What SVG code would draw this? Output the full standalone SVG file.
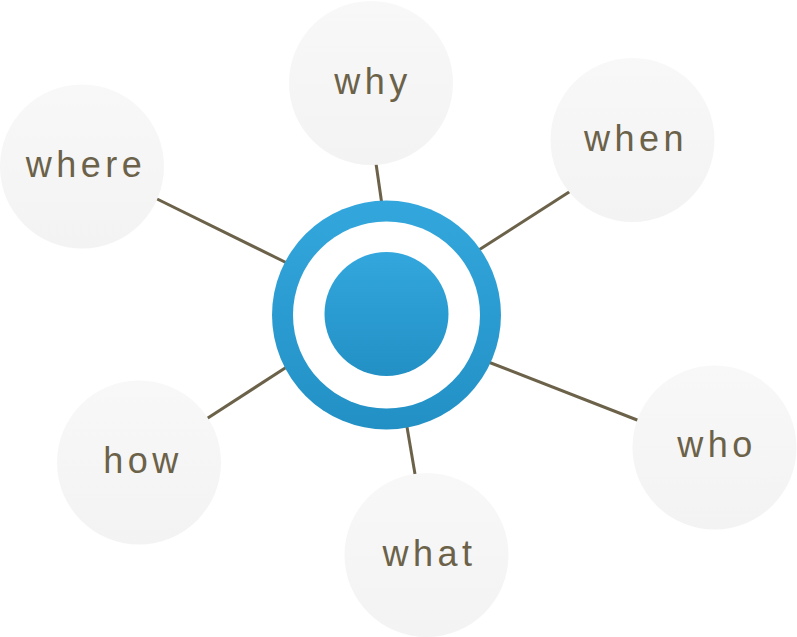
<svg xmlns="http://www.w3.org/2000/svg" width="797" height="637" viewBox="0 0 797 637">
<defs>
<linearGradient id="gGrey" x1="0" y1="0" x2="0" y2="1">
<stop offset="0" stop-color="#f8f8f8"/>
<stop offset="1" stop-color="#f3f3f3"/>
</linearGradient>
<linearGradient id="gBlue" x1="0" y1="0" x2="0" y2="1">
<stop offset="0" stop-color="#33a7dd"/>
<stop offset="1" stop-color="#2290c5"/>
</linearGradient>
<style>
.bubble{fill:url(#gGrey);}
.lbl{font-family:"Liberation Sans",Arial,sans-serif;font-size:36px;fill:#6b6249;text-anchor:middle;letter-spacing:4.5px;}
.conn line{stroke:#6b6249;stroke-width:3;stroke-linecap:butt;}
</style>
</defs>
<rect width="797" height="637" fill="#ffffff"/>
<g id="connectors" class="conn">
<line x1="375.5" y1="160" x2="382" y2="205"/>
<line x1="573" y1="189.5" x2="478" y2="250.5"/>
<line x1="152" y1="196.5" x2="290" y2="264.5"/>
<line x1="204" y1="420.5" x2="289" y2="365.5"/>
<line x1="406.5" y1="424" x2="415.5" y2="477"/>
<line x1="487" y1="361.5" x2="641" y2="421.5"/>
</g>
<g id="center">
<circle cx="386.5" cy="315" r="114.5" fill="url(#gBlue)"/>
<circle cx="386.5" cy="315" r="93.5" fill="#ffffff"/>
<circle cx="386.5" cy="314" r="62" fill="url(#gBlue)"/>
</g>
<g id="why">
<circle class="bubble" cx="371" cy="83" r="82"/>
<text class="lbl" x="373" y="94">why</text>
</g>
<g id="when">
<circle class="bubble" cx="632.5" cy="140" r="82"/>
<text class="lbl" x="636" y="151">when</text>
</g>
<g id="where">
<circle class="bubble" cx="82" cy="166.5" r="82"/>
<text class="lbl" x="86" y="177">where</text>
</g>
<g id="how">
<circle class="bubble" cx="139" cy="462.5" r="82"/>
<text class="lbl" x="143" y="473">how</text>
</g>
<g id="what">
<circle class="bubble" cx="426.5" cy="555" r="82"/>
<text class="lbl" x="429.5" y="566">what</text>
</g>
<g id="who">
<circle class="bubble" cx="714.5" cy="447.5" r="82"/>
<text class="lbl" x="717" y="457">who</text>
</g>
</svg>
